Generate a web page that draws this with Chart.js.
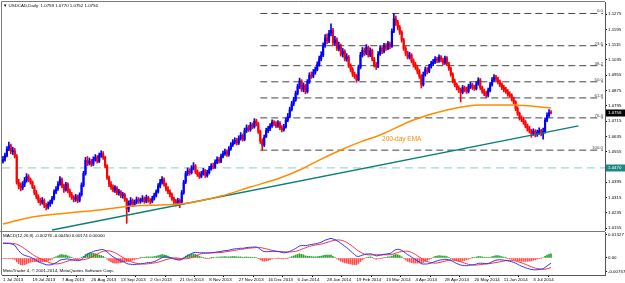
<!DOCTYPE html>
<html>
<head>
<meta charset="utf-8">
<script src="https://cdn.jsdelivr.net/npm/chart.js@4.4.1/dist/chart.umd.min.js"></script>
<style>
  html, body { margin: 0; padding: 0; background: #fff; }
  #wrap { position: relative; width: 625px; height: 283px; overflow: hidden; }
  canvas { position: absolute; left: 0; }
  #priceChart { top: 0; }
  #macdChart { top: 231px; }
</style>
</head>
<body>
<div id="wrap">
  <canvas id="priceChart" width="625" height="231"></canvas>
  <canvas id="macdChart" width="625" height="52"></canvas>
</div>
<script>
// --- data (1 Jul 2013 .. mid Jul 2014) ---
const closes = [
  1.0515, 1.0535, 1.0570, 1.0585, 1.0555, 1.0560, 1.0530, 1.0395, 1.0375, 1.0365,
  1.0385, 1.0405, 1.0425, 1.0410, 1.0395, 1.0370, 1.0340, 1.0320, 1.0300, 1.0290,
  1.0300, 1.0275, 1.0265, 1.0280, 1.0290, 1.0310, 1.0345, 1.0360, 1.0385, 1.0410,
  1.0375, 1.0355, 1.0385, 1.0350, 1.0330, 1.0315, 1.0305, 1.0320, 1.0300, 1.0330,
  1.0380, 1.0440, 1.0510, 1.0495, 1.0505, 1.0490, 1.0515, 1.0525, 1.0505, 1.0535,
  1.0545, 1.0525, 1.0480, 1.0420, 1.0385, 1.0370, 1.0355, 1.0365, 1.0340, 1.0345,
  1.0325, 1.0330, 1.0305, 1.0255, 1.0285, 1.0300, 1.0280, 1.0290, 1.0305, 1.0295,
  1.0300, 1.0310, 1.0295, 1.0315, 1.0300, 1.0295, 1.0310, 1.0325, 1.0345, 1.0375,
  1.0395, 1.0410, 1.0385, 1.0360, 1.0345, 1.0330, 1.0310, 1.0295, 1.0285, 1.0300,
  1.0290, 1.0340, 1.0395, 1.0440, 1.0455, 1.0445, 1.0470, 1.0480, 1.0450, 1.0435,
  1.0425, 1.0440, 1.0455, 1.0430, 1.0445, 1.0465, 1.0480, 1.0475, 1.0500, 1.0515,
  1.0505, 1.0530, 1.0545, 1.0555, 1.0540, 1.0570, 1.0590, 1.0605, 1.0615, 1.0600,
  1.0625, 1.0640, 1.0620, 1.0665, 1.0680, 1.0670, 1.0695, 1.0685, 1.0715, 1.0700,
  1.0660, 1.0610, 1.0590, 1.0630, 1.0665, 1.0675, 1.0690, 1.0710, 1.0700, 1.0690,
  1.0705, 1.0680, 1.0670, 1.0685, 1.0720, 1.0740, 1.0775, 1.0805, 1.0825, 1.0860,
  1.0895, 1.0925, 1.0880, 1.0900, 1.0870, 1.0920, 1.0955, 1.0950, 1.0970, 1.0985,
  1.1010, 1.1040, 1.1060, 1.1110, 1.1150, 1.1135, 1.1175, 1.1190, 1.1125, 1.1140,
  1.1095, 1.1110, 1.1065, 1.1080, 1.1040, 1.1050, 1.1005, 1.0985, 1.0960, 1.0950,
  1.0930, 1.0995, 1.1060, 1.1085, 1.1070, 1.1100, 1.1060, 1.1085, 1.1040, 1.1010,
  1.1000, 1.1065, 1.1095, 1.1080, 1.1110, 1.1095, 1.1120, 1.1105, 1.1185, 1.1250,
  1.1230, 1.1205, 1.1180, 1.1140, 1.1095, 1.1070, 1.1050, 1.1060, 1.1030, 1.1010,
  1.0995, 1.0975, 1.0950, 1.0905, 1.0960, 1.0985, 1.0975, 1.1000, 1.1015, 1.1025,
  1.1040, 1.1030, 1.1050, 1.1035, 1.1020, 1.1045, 1.1015, 1.0990, 1.0960, 1.0925,
  1.0905, 1.0890, 1.0880, 1.0865, 1.0890, 1.0880, 1.0870, 1.0895, 1.0905, 1.0890,
  1.0885, 1.0910, 1.0930, 1.0890, 1.0870, 1.0860, 1.0850, 1.0875, 1.0905, 1.0930,
  1.0945, 1.0935, 1.0920, 1.0905, 1.0890, 1.0880, 1.0870, 1.0855, 1.0850, 1.0830,
  1.0815, 1.0780, 1.0755, 1.0730, 1.0725, 1.0710, 1.0690, 1.0675, 1.0665, 1.0650,
  1.0660, 1.0645, 1.0655, 1.0665, 1.0650, 1.0660, 1.0720, 1.0745, 1.0759, 1.0756
];
const highs = [
  1.0530, 1.0548, 1.0582, 1.0605, 1.0595, 1.0578, 1.0572, 1.0540, 1.0410, 1.0392,
  1.0398, 1.0420, 1.0440, 1.0435, 1.0418, 1.0402, 1.0378, 1.0352, 1.0330, 1.0312,
  1.0315, 1.0308, 1.0285, 1.0292, 1.0302, 1.0322, 1.0355, 1.0372, 1.0398, 1.0425,
  1.0418, 1.0385, 1.0395, 1.0392, 1.0360, 1.0342, 1.0325, 1.0332, 1.0328, 1.0340,
  1.0392, 1.0452, 1.0525, 1.0530, 1.0522, 1.0515, 1.0528, 1.0540, 1.0535, 1.0548,
  1.0560, 1.0555, 1.0532, 1.0488, 1.0428, 1.0398, 1.0382, 1.0378, 1.0372, 1.0358,
  1.0352, 1.0342, 1.0338, 1.0312, 1.0298, 1.0315, 1.0308, 1.0302, 1.0318, 1.0315,
  1.0312, 1.0325, 1.0318, 1.0328, 1.0322, 1.0310, 1.0322, 1.0338, 1.0355, 1.0388,
  1.0410, 1.0425, 1.0418, 1.0392, 1.0372, 1.0355, 1.0340, 1.0318, 1.0305, 1.0312,
  1.0308, 1.0352, 1.0405, 1.0452, 1.0470, 1.0465, 1.0482, 1.0498, 1.0488, 1.0460,
  1.0448, 1.0452, 1.0468, 1.0462, 1.0458, 1.0478, 1.0492, 1.0495, 1.0512, 1.0528,
  1.0525, 1.0542, 1.0558, 1.0568, 1.0565, 1.0582, 1.0602, 1.0618, 1.0628, 1.0625,
  1.0638, 1.0655, 1.0648, 1.0678, 1.0695, 1.0692, 1.0708, 1.0705, 1.0728, 1.0725,
  1.0708, 1.0668, 1.0622, 1.0642, 1.0678, 1.0688, 1.0702, 1.0722, 1.0718, 1.0712,
  1.0718, 1.0712, 1.0692, 1.0698, 1.0732, 1.0755, 1.0788, 1.0818, 1.0840, 1.0872,
  1.0908, 1.0940, 1.0932, 1.0915, 1.0908, 1.0932, 1.0968, 1.0972, 1.0985, 1.0998,
  1.1025, 1.1055, 1.1078, 1.1125, 1.1168, 1.1172, 1.1190, 1.1224, 1.1200, 1.1158,
  1.1150, 1.1128, 1.1118, 1.1095, 1.1088, 1.1068, 1.1058, 1.1015, 1.0995, 1.0972,
  1.0960, 1.1008, 1.1075, 1.1100, 1.1098, 1.1115, 1.1108, 1.1098, 1.1092, 1.1048,
  1.1022, 1.1078, 1.1110, 1.1105, 1.1122, 1.1120, 1.1132, 1.1128, 1.1198, 1.1278,
  1.1265, 1.1242, 1.1215, 1.1188, 1.1148, 1.1105, 1.1080, 1.1075, 1.1068, 1.1040,
  1.1022, 1.1005, 1.0985, 1.0958, 1.0972, 1.0998, 1.0995, 1.1012, 1.1028, 1.1038,
  1.1052, 1.1050, 1.1062, 1.1058, 1.1045, 1.1055, 1.1052, 1.1022, 1.0998, 1.0968,
  1.0935, 1.0915, 1.0900, 1.0888, 1.0902, 1.0898, 1.0892, 1.0908, 1.0918, 1.0912,
  1.0902, 1.0922, 1.0942, 1.0938, 1.0898, 1.0882, 1.0872, 1.0888, 1.0918, 1.0942,
  1.0958, 1.0955, 1.0945, 1.0930, 1.0915, 1.0902, 1.0892, 1.0880, 1.0868, 1.0858,
  1.0840, 1.0822, 1.0790, 1.0762, 1.0742, 1.0735, 1.0718, 1.0700, 1.0688, 1.0672,
  1.0675, 1.0670, 1.0668, 1.0680, 1.0672, 1.0678, 1.0732, 1.0758, 1.0775, 1.0770
];
const lows = [
  1.0495, 1.0505, 1.0528, 1.0560, 1.0545, 1.0540, 1.0522, 1.0385, 1.0360, 1.0350,
  1.0355, 1.0372, 1.0395, 1.0398, 1.0385, 1.0362, 1.0330, 1.0308, 1.0288, 1.0275,
  1.0280, 1.0262, 1.0250, 1.0255, 1.0268, 1.0282, 1.0302, 1.0335, 1.0352, 1.0378,
  1.0365, 1.0342, 1.0348, 1.0340, 1.0318, 1.0305, 1.0292, 1.0295, 1.0288, 1.0292,
  1.0322, 1.0372, 1.0432, 1.0482, 1.0485, 1.0478, 1.0482, 1.0505, 1.0495, 1.0498,
  1.0525, 1.0515, 1.0470, 1.0410, 1.0372, 1.0358, 1.0345, 1.0342, 1.0330, 1.0328,
  1.0315, 1.0312, 1.0295, 1.0180, 1.0240, 1.0272, 1.0268, 1.0270, 1.0282, 1.0285,
  1.0285, 1.0292, 1.0285, 1.0288, 1.0290, 1.0282, 1.0288, 1.0302, 1.0318, 1.0338,
  1.0365, 1.0385, 1.0375, 1.0350, 1.0335, 1.0318, 1.0300, 1.0282, 1.0270, 1.0275,
  1.0262, 1.0285, 1.0332, 1.0388, 1.0430, 1.0432, 1.0438, 1.0460, 1.0440, 1.0425,
  1.0415, 1.0418, 1.0432, 1.0420, 1.0422, 1.0438, 1.0458, 1.0465, 1.0468, 1.0492,
  1.0495, 1.0498, 1.0522, 1.0535, 1.0530, 1.0532, 1.0562, 1.0582, 1.0595, 1.0590,
  1.0592, 1.0615, 1.0610, 1.0612, 1.0655, 1.0660, 1.0662, 1.0675, 1.0678, 1.0690,
  1.0650, 1.0598, 1.0563, 1.0582, 1.0632, 1.0655, 1.0665, 1.0682, 1.0690, 1.0680,
  1.0682, 1.0670, 1.0658, 1.0662, 1.0678, 1.0712, 1.0732, 1.0768, 1.0795, 1.0818,
  1.0852, 1.0885, 1.0870, 1.0868, 1.0858, 1.0862, 1.0912, 1.0938, 1.0942, 1.0960,
  1.0978, 1.1002, 1.1030, 1.1052, 1.1100, 1.1120, 1.1125, 1.1160, 1.1112, 1.1110,
  1.1085, 1.1082, 1.1055, 1.1050, 1.1030, 1.1028, 1.0995, 1.0972, 1.0948, 1.0938,
  1.0918, 1.0925, 1.0988, 1.1050, 1.1058, 1.1062, 1.1050, 1.1052, 1.1030, 1.0998,
  1.0985, 1.0995, 1.1058, 1.1068, 1.1072, 1.1085, 1.1088, 1.1092, 1.1100, 1.1178,
  1.1215, 1.1192, 1.1168, 1.1128, 1.1085, 1.1058, 1.1040, 1.1040, 1.1020, 1.0998,
  1.0985, 1.0962, 1.0938, 1.0888, 1.0898, 1.0950, 1.0962, 1.0968, 1.0992, 1.1005,
  1.1015, 1.1020, 1.1022, 1.1025, 1.1010, 1.1012, 1.1005, 1.0980, 1.0950, 1.0915,
  1.0895, 1.0878, 1.0865, 1.0815, 1.0858, 1.0868, 1.0860, 1.0862, 1.0885, 1.0880,
  1.0875, 1.0878, 1.0902, 1.0880, 1.0860, 1.0848, 1.0838, 1.0842, 1.0868, 1.0898,
  1.0922, 1.0925, 1.0910, 1.0895, 1.0880, 1.0868, 1.0860, 1.0845, 1.0838, 1.0820,
  1.0805, 1.0770, 1.0745, 1.0720, 1.0712, 1.0698, 1.0680, 1.0662, 1.0652, 1.0630,
  1.0640, 1.0632, 1.0635, 1.0645, 1.0638, 1.0620, 1.0652, 1.0712, 1.0735, 1.0752
];
const firstOpen = 1.0505;

// time axis: one label every 15 bars
const tickLabels = ['1 Jul 2013', '19 Jul 2013', '7 Aug 2013', '26 Aug 2013', '13 Sep 2013',
  '2 Oct 2013', '21 Oct 2013', '8 Nov 2013', '27 Nov 2013', '16 Dec 2013', '6 Jan 2014',
  '28 Jan 2014', '19 Feb 2014', '13 Mar 2014', '4 Apr 2014', '28 Apr 2014', '20 May 2014',
  '11 Jun 2014', '3 Jul 2014'];
const tickEvery = 15;
const priceTicks = [1.1275, 1.1195, 1.1115, 1.1035, 1.0955, 1.0875, 1.0795, 1.0715,
  1.0635, 1.0555, 1.0475, 1.0395, 1.0315, 1.0235, 1.0155];

// 200-day EMA (bar index, price)
const emaBars = [0, 15, 33, 49, 66, 80, 90, 100, 111, 126, 141, 151, 161, 172, 182, 192, 209, 226, 243, 260, 279];
const emaValues = [1.0177, 1.0213, 1.0234, 1.0250, 1.0271, 1.0276, 1.0281, 1.0297, 1.0323, 1.0370, 1.0417,
  1.0459, 1.0511, 1.0564, 1.0606, 1.0642, 1.0721, 1.0773, 1.0799, 1.0799, 1.0783];
const emaLabelAt = [193, 1.0621];

// fibonacci retracement, support level, trendline
const fibLevels = [0, 23.6, 38.2, 50, 61.8, 76.4, 100];
const fibHigh = 1.1278;
const fibLow = 1.0563;
const fibStart = 131;
const fibEnd = 305.5;
const supportLevel = 1.0470;
const trendline = [[25, 1.0145], [293, 1.0690]];

// MACD(12,26,9)
const macdFastSeed = 1.0470;
const macdSlowSeed = 1.0385;
const macdTicks = [0.01327, 0, -0.00757];
const macdHeader = 'MACD(12,26,9) -0.00276 -0.00450 0.00174 0.00000';
const titleText = '\u25BC USDCAD,Daily  1.0759 1.0770 1.0752 1.0756';

const UP = '#0000ff';
const DOWN = '#ff0000';
const FONT = '"Liberation Sans", Arial, sans-serif';
const SMALL = 4.4;

// --- derived series ---
const opens = closes.map((c, i) => i === 0 ? firstOpen : closes[i - 1]);
const isUp = i => closes[i] >= opens[i];

const macdMain = [], macdSignal = [], macdHist = [];
let fast = macdFastSeed, slow = macdSlowSeed;
const seedMain = macdFastSeed - macdSlowSeed;
const mainVals = [];
closes.forEach((c, i) => {
    fast += (c - fast) * 2 / 13;
    slow += (c - slow) * 2 / 27;
    const m = fast - slow;
    mainVals.push(m);
    let sum = 0;
    for (let k = i - 8; k <= i; k++) sum += k < 0 ? seedMain : mainVals[k];
    const s = sum / 9;
    macdMain.push({ x: i, y: m });
    macdSignal.push({ x: i, y: s });
    macdHist.push({ x: i, y: m - s });
});

const fibPrice = p => fibHigh - (fibHigh - fibLow) * p / 100;

// keep axis labels from shrinking the plot area
const fixWidth = s => { s.width = 20; s.paddingTop = 0; s.paddingBottom = 0; };
const fixHeight = s => { s.height = 8; s.paddingLeft = 0; s.paddingRight = 0; };

// --- price pane ---
const pricePane = {
    id: 'pricePane',
    afterDatasetsDraw(chart) {
        const { ctx, scales: { x, y } } = chart;
        ctx.save();
        ctx.font = SMALL + 'px ' + FONT;
        ctx.fillStyle = '#404040';
        ctx.textAlign = 'right';
        ctx.textBaseline = 'bottom';
        fibLevels.forEach(p => {
            ctx.fillText(p.toFixed(1), x.getPixelForValue(fibEnd), y.getPixelForValue(fibPrice(p)));
        });
        ctx.font = '6.5px ' + FONT;
        ctx.fillStyle = '#ff8c00';
        ctx.textAlign = 'left';
        ctx.textBaseline = 'middle';
        ctx.fillText('200-day EMA', x.getPixelForValue(emaLabelAt[0]), y.getPixelForValue(emaLabelAt[1]));
        ctx.restore();
    },
    afterDraw(chart) {
        const { ctx, chartArea: a, scales: { y } } = chart;
        ctx.save();
        ctx.strokeStyle = '#7a7a7a';
        ctx.lineWidth = 1;
        ctx.beginPath();
        ctx.moveTo(a.left - 0.5, a.bottom);
        ctx.lineTo(a.left - 0.5, a.top - 0.5);
        ctx.lineTo(a.right, a.top - 0.5);
        ctx.stroke();

        ctx.font = SMALL + 'px ' + FONT;
        ctx.fillStyle = '#000';
        ctx.textBaseline = 'middle';
        ctx.fillText(titleText, a.left + 1, a.top + 4);

        // price tags on the axis
        const tag = (value, bg) => {
            const py = Math.round(y.getPixelForValue(value));
            ctx.fillStyle = bg;
            ctx.fillRect(a.right + 1, py - 3.5, 19, 7);
            ctx.fillStyle = '#fff';
            ctx.textAlign = 'left';
            ctx.fillText(value.toFixed(4), a.right + 3, py);
        };
        tag(supportLevel, '#1f8782');
        tag(closes[closes.length - 1], '#000');
        ctx.restore();
    }
};

new Chart(document.getElementById('priceChart'), {
    type: 'bar',
    data: {
        datasets: [
            ...fibLevels.map(p => ({
                type: 'line',
                data: [{ x: fibStart, y: fibPrice(p) }, { x: fibEnd, y: fibPrice(p) }],
                borderColor: '#454545', borderWidth: 1, borderDash: [7, 4],
                pointRadius: 0, order: 3
            })),
            {
                type: 'line',
                data: [{ x: -0.5, y: supportLevel }, { x: 306.5, y: supportLevel }],
                borderColor: '#86cfcb', borderWidth: 1, borderDash: [8, 5],
                pointRadius: 0, order: 3
            },
            {
                data: closes.map((c, i) => ({ x: i, y: [lows[i], highs[i]] })),
                backgroundColor: ctx => isUp(ctx.dataIndex) ? UP : DOWN,
                barThickness: 1, grouped: false, order: 2
            },
            {
                data: closes.map((c, i) => ({ x: i, y: [opens[i], c] })),
                backgroundColor: ctx => isUp(ctx.dataIndex) ? UP : DOWN,
                barThickness: 1.5, grouped: false, minBarLength: 1, order: 2
            },
            {
                type: 'line', data: emaBars.map((b, k) => ({ x: b, y: emaValues[k] })),
                borderColor: '#ff8c00', borderWidth: 1.5, pointRadius: 0,
                cubicInterpolationMode: 'monotone', order: 1
            },
            {
                type: 'line', data: trendline.map(([x, y]) => ({ x, y })),
                borderColor: '#0a7f78', borderWidth: 1.5, pointRadius: 0, order: 1
            }
        ]
    },
    options: {
        responsive: false,
        animation: false,
        devicePixelRatio: 1,
        layout: { padding: { top: 2, left: 2, right: 0, bottom: 0 } },
        plugins: { legend: { display: false }, tooltip: { enabled: false } },
        scales: {
            x: { type: 'linear', min: -0.5, max: 306.5, offset: false, display: false },
            y: {
                position: 'right', min: 1.0140, max: 1.1338,
                afterBuildTicks: s => { s.ticks = priceTicks.map(v => ({ value: v })); },
                afterFit: fixWidth,
                ticks: { callback: v => v.toFixed(4), font: { family: FONT, size: SMALL }, color: '#000', padding: 1, autoSkip: false },
                grid: { drawOnChartArea: false, tickLength: 2, color: '#000' },
                border: { color: '#555' }
            }
        }
    },
    plugins: [pricePane]
});

// --- MACD pane ---
const macdPane = {
    id: 'macdPane',
    afterDraw(chart) {
        const { ctx, chartArea: a } = chart;
        ctx.save();
        ctx.strokeStyle = '#7a7a7a';
        ctx.lineWidth = 2;
        ctx.beginPath();
        ctx.moveTo(0, a.top - 1);
        ctx.lineTo(a.right, a.top - 1);
        ctx.stroke();
        ctx.lineWidth = 1;
        ctx.beginPath();
        ctx.moveTo(a.left - 0.5, a.top);
        ctx.lineTo(a.left - 0.5, a.bottom);
        ctx.stroke();
        ctx.font = SMALL + 'px ' + FONT;
        ctx.fillStyle = '#000';
        ctx.textBaseline = 'middle';
        ctx.fillText(macdHeader, a.left + 1, a.top + 4);
        ctx.fillText('MetaTrader 4, \u00A9 2001-2014, MetaQuotes Software Corp.', a.left + 1, a.bottom - 4);
        ctx.restore();
    }
};

new Chart(document.getElementById('macdChart'), {
    type: 'bar',
    data: {
        datasets: [
            {
                data: macdHist,
                backgroundColor: ctx => macdHist[ctx.dataIndex].y >= 0 ? '#2aa02a' : '#ff4d4d',
                barThickness: 1, grouped: false, order: 2
            },
            { type: 'line', data: macdSignal, borderColor: '#ff3030', borderWidth: 1, pointRadius: 0, order: 1 },
            { type: 'line', data: macdMain, borderColor: '#3030ff', borderWidth: 1, pointRadius: 0, order: 0 }
        ]
    },
    options: {
        responsive: false,
        animation: false,
        devicePixelRatio: 1,
        layout: { padding: { top: 1, left: 2, right: 0, bottom: 0 } },
        plugins: { legend: { display: false }, tooltip: { enabled: false } },
        scales: {
            x: {
                type: 'linear', min: -0.5, max: 306.5, offset: false,
                afterBuildTicks: s => { s.ticks = tickLabels.map((_, k) => ({ value: k * tickEvery })); },
                afterFit: fixHeight,
                ticks: { callback: (v, i) => tickLabels[i], align: 'start', maxRotation: 0, autoSkip: false,
                         font: { family: FONT, size: SMALL }, color: '#000', padding: 0 },
                grid: { drawOnChartArea: false, tickLength: 2, color: '#000' },
                border: { color: '#555' }
            },
            y: {
                position: 'right', min: -0.00958, max: 0.01465,
                afterBuildTicks: s => { s.ticks = macdTicks.map(v => ({ value: v })); },
                afterFit: fixWidth,
                ticks: { callback: v => v === 0 ? '0.00' : v.toFixed(5), font: { family: FONT, size: SMALL }, color: '#000', padding: 1, autoSkip: false },
                grid: { drawOnChartArea: false, tickLength: 2, color: '#000' },
                border: { color: '#555' }
            }
        }
    },
    plugins: [macdPane]
});
</script>
</body>
</html>
